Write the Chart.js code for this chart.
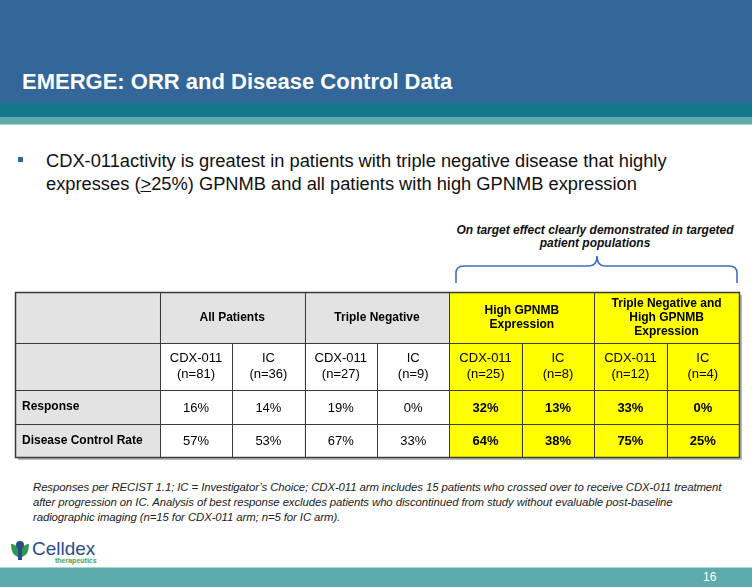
<!DOCTYPE html>
<html lang="en">
<head>
<meta charset="UTF-8">
<title>EMERGE: ORR and Disease Control Data</title>
<script src="https://cdn.jsdelivr.net/npm/chart.js@4.4.1/dist/chart.umd.min.js"></script>
<style>
  body { margin: 0; }
  #slide { position: relative; width: 752px; height: 587px; overflow: hidden; background: #fff;
           font-family: "Liberation Sans", Arial, sans-serif; }
  .band { position: absolute; left: 0; width: 752px; }
  #title { position: absolute; left: 22px; top: 71px; color: #fff; font-size: 22px; font-weight: bold; line-height: 22px; white-space: nowrap; }
  #bullet { position: absolute; left: 18px; top: 157px; width: 5px; height: 5px; background: #336699; }
  #lead { position: absolute; left: 46px; top: 149px; width: 700px; font-size: 18.3px; line-height: 23px; color: #111; }
  #note { position: absolute; left: 440px; top: 224px; width: 310px; text-align: center; font-size: 12px; font-weight: bold; font-style: italic; line-height: 13px; color: #111; }
  #foot { position: absolute; left: 33px; top: 480px; width: 719px; font-size: 11.4px; font-style: italic; line-height: 15px; color: #222; white-space: nowrap; letter-spacing: -0.1px; }
  #tableBox { position: absolute; left: 14px; top: 291px; width: 729px; height: 170px; }
  #page { position: absolute; left: 703px; top: 570px; color: #fff; font-size: 12px; }
</style>
</head>
<body>
<div id="slide">
  <div class="band" style="top:0;height:103px;background:#336699"></div>
  <div class="band" style="top:103px;height:14px;background:#15788a"></div>
  <div class="band" style="top:117px;height:7px;background:#5eabab"></div>
  <div class="band" style="top:124px;height:1px;background:#a9d3d3"></div>
  <div id="title">EMERGE: ORR and Disease Control Data</div>

  <div id="bullet"></div>
  <div id="lead">CDX-011activity is greatest in patients with triple negative disease that highly expresses (<u>&gt;</u>25%) GPNMB and all patients with high GPNMB expression</div>

  <div id="note">On target effect clearly demonstrated in targeted<br>patient populations</div>
  <svg style="position:absolute;left:0;top:0" width="752" height="300">
    <path d="M456 283 L456 273 Q456 266 464 266 L589 266 Q597 266 597 256 Q597 266 605 266 L729 266 Q737 266 737 273 L737 283"
          fill="none" stroke="#3b6fc6" stroke-width="1.6"/>
  </svg>

  <div id="tableBox"><canvas id="myChart"></canvas></div>

  <div id="foot">Responses per RECIST 1.1; IC = Investigator’s Choice; CDX-011 arm includes 15 patients who crossed over to receive CDX-011 treatment<br>after progression on IC. Analysis of best response excludes patients who discontinued from study without evaluable post-baseline<br>radiographic imaging (n=15 for CDX-011 arm; n=5 for IC arm).</div>

  <svg style="position:absolute;left:8px;top:538px" width="100" height="28">
    <path d="M3 6 Q3 17 10 19 L10 10 Q7 6 3 6 Z" fill="#2e9a4c"/>
    <path d="M21 6 Q21 17 14 19 L14 10 Q17 6 21 6 Z" fill="#2e9a4c"/>
    <circle cx="12" cy="7" r="4" fill="#2b4c8c"/>
    <path d="M10 10 L14 10 L14 22 L10 22 Z" fill="#2b4c8c"/>
    <text x="24" y="17" font-family="Liberation Sans, Arial" font-size="19" fill="#2b4c8c">Celldex</text>
    <text x="47" y="25" font-family="Liberation Sans, Arial" font-size="7" font-weight="bold" fill="#3aa35a">therapeutics</text>
  </svg>
  <div class="band" style="top:567px;height:20px;background:#5eabab"></div>
  <div class="band" style="top:567px;height:1px;background:#a9d3d3"></div>
  <div id="page">16</div>
</div>

<script type="text/javascript">

// table content
const groupLabels = [['All Patients'], ['Triple Negative'], ['High GPNMB', 'Expression'], ['Triple Negative and', 'High GPNMB', 'Expression']];
const highlighted = [false, false, true, true];
const arms = ['CDX-011', 'IC', 'CDX-011', 'IC', 'CDX-011', 'IC', 'CDX-011', 'IC'];
const armN = [81, 36, 27, 9, 25, 8, 12, 4];
const rowLabels = ['Response', 'Disease Control Rate'];
const response = [16, 14, 19, 0, 32, 13, 33, 0];
const diseaseControl = [57, 53, 67, 33, 64, 38, 75, 25];

// layout in scale units: label column spans 0-2, each arm one unit
const rowEdges = [0, 51, 98, 132, 165];
const FONT = '"Liberation Sans", Arial, sans-serif';
const GRAY = '#e3e3e3', YELLOW = '#ffff00', LINE = '#3a3a3a';

const rowMid = r => (rowEdges[r] + rowEdges[r + 1]) / 2;
const isHot = i => highlighted[Math.floor(i / 2)];

const tablePlugin = {
  id: 'tableGrid',
  beforeDatasetsDraw(chart) {
    const ctx = chart.ctx, x = chart.scales.x, y = chart.scales.y;
    const px = v => x.getPixelForValue(v), py = v => y.getPixelForValue(v);
    const L = Math.round(px(0)), R = Math.round(px(10)), T = Math.round(py(0)), B = Math.round(py(165));
    ctx.save();
    // soft shadow
    ctx.fillStyle = '#b8b8b8';
    ctx.fillRect(L + 3, T + 3, R - L, B - T);
    const cell = (x0, x1, r0, r1, col) => {
      ctx.fillStyle = col;
      ctx.fillRect(px(x0), py(rowEdges[r0]), px(x1) - px(x0), py(rowEdges[r1]) - py(rowEdges[r0]));
    };
    cell(0, 2, 0, 4, GRAY);
    groupLabels.forEach((g, i) => cell(2 + 2 * i, 4 + 2 * i, 0, 1, highlighted[i] ? YELLOW : GRAY));
    arms.forEach((a, i) => cell(2 + i, 3 + i, 1, 4, isHot(i) ? YELLOW : '#ffffff'));
    // grid lines
    ctx.strokeStyle = LINE;
    ctx.lineWidth = 1;
    ctx.beginPath();
    rowEdges.forEach(v => {
      const yy = Math.round(py(v)) + 0.5;
      ctx.moveTo(L, yy); ctx.lineTo(R + 1, yy);
    });
    for (let c = 0; c <= 10; c++) {
      if (c === 1) continue;
      const xx = Math.round(px(c)) + 0.5;
      const top = (c > 2 && c % 2 === 1) ? rowEdges[1] : 0;
      ctx.moveTo(xx, Math.round(py(top))); ctx.lineTo(xx, B + 1);
    }
    ctx.stroke();
    ctx.lineWidth = 1.5;
    ctx.strokeRect(L + 0.5, T + 0.5, R - L, B - T);

    // header text
    ctx.fillStyle = '#000';
    ctx.textAlign = 'center';
    ctx.textBaseline = 'middle';
    ctx.font = 'bold 12px ' + FONT;
    groupLabels.forEach((g, i) => {
      const cx = px(3 + 2 * i), cy = py(rowMid(0));
      g.forEach((t, k) => ctx.fillText(t, cx, cy + (k - (g.length - 1) / 2) * 14));
    });
    ctx.font = '13px ' + FONT;
    arms.forEach((a, i) => {
      const cx = px(2.5 + i), cy = py(rowMid(1));
      ctx.fillText(a, cx, cy - 8);
      ctx.fillText('(n=' + armN[i] + ')', cx, cy + 8);
    });
    ctx.textAlign = 'left';
    ctx.font = 'bold 12px ' + FONT;
    rowLabels.forEach((t, r) => ctx.fillText(t, L + 7, py(rowMid(r + 2))));
    ctx.restore();
  },
  afterDatasetsDraw(chart) {
    const ctx = chart.ctx;
    ctx.save();
    ctx.fillStyle = '#000';
    ctx.textAlign = 'center';
    ctx.textBaseline = 'middle';
    chart.data.datasets.forEach((ds, d) => {
      chart.getDatasetMeta(d).data.forEach((pt, i) => {
        ctx.font = (isHot(i) ? 'bold ' : '') + '13px ' + FONT;
        ctx.fillText(ds.data[i].v + '%', pt.x, pt.y + 1);
      });
    });
    ctx.restore();
  }
};

const ctx = document.getElementById('myChart').getContext('2d');
const myChart = new Chart(ctx, {
  type: 'scatter',
  data: {
    datasets: [
      { label: rowLabels[0], data: response.map((v, i) => ({ x: 2.5 + i, y: rowMid(2), v })), pointRadius: 0 },
      { label: rowLabels[1], data: diseaseControl.map((v, i) => ({ x: 2.5 + i, y: rowMid(3), v })), pointRadius: 0 }
    ]
  },
  options: {
    responsive: true,
    maintainAspectRatio: false,
    animation: false,
    layout: { padding: { left: 1, top: 1, right: 4, bottom: 4 } },
    plugins: { legend: { display: false }, tooltip: { enabled: false } },
    scales: {
      x: { type: 'linear', min: 0, max: 10, display: false },
      y: { type: 'linear', min: 0, max: 165, reverse: true, display: false }
    }
  },
  plugins: [tablePlugin]
});

</script>
</body>
</html>
